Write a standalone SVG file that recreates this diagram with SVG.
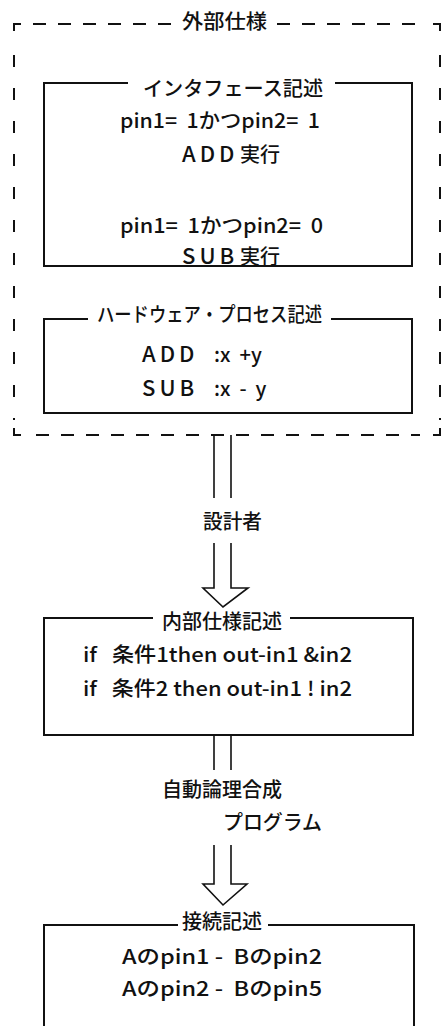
<svg xmlns="http://www.w3.org/2000/svg" width="443" height="1026" viewBox="0 0 443 1026" xml:space="preserve">
<style>
text{font-family:"Noto Sans CJK JP","Noto Sans CJK SC",sans-serif;font-size:20px;font-weight:500;fill:#111;white-space:pre}
.wide{letter-spacing:4px;font-size:22px}
.box{fill:none;stroke:#111;stroke-width:2}
.dh{fill:none;stroke:#111;stroke-width:2;stroke-dasharray:13 12}
.dv{fill:none;stroke:#111;stroke-width:2;stroke-dasharray:12 21}
.arr{fill:none;stroke:#111;stroke-width:1.6;stroke-linejoin:miter}
</style>
<rect width="443" height="1026" fill="#fff"/>
<g id="outer">
<path class="box" d="M14,31 V24 H21 M433,24 H440 V31 M14,428 V435 H21 M433,435 H440 V428"/>
<path class="dh" d="M33,24 H178 M277,24 H420"/>
<path class="dh" d="M36,435 H420"/>
<path class="dv" d="M14,55 V420 M440,55 V420"/>
<text x="182" y="29" textLength="85" lengthAdjust="spacingAndGlyphs">外部仕様</text>
</g>
<g id="interface">
<path class="box" d="M128,83 H44 V266 H412 V83 H335"/>
<text x="143" y="96" textLength="180" lengthAdjust="spacingAndGlyphs">インタフェース記述</text>
<text x="120" y="128" textLength="200" lengthAdjust="spacingAndGlyphs">pin1=  1かつpin2=  1</text>
<text x="182" y="162"><tspan class="wide">ADD</tspan><tspan x="240">実行</tspan></text>
<text x="120" y="233" textLength="203" lengthAdjust="spacingAndGlyphs">pin1=  1かつpin2=  0</text>
<text x="182" y="264"><tspan class="wide">SUB</tspan><tspan x="240">実行</tspan></text>
</g>
<g id="hardware">
<path class="box" d="M88,319 H44 V413 H412 V319 H331"/>
<text x="97" y="322" textLength="225" lengthAdjust="spacingAndGlyphs">ハードウェア・プロセス記述</text>
<text x="142" y="362"><tspan class="wide">ADD</tspan><tspan x="214">:x  +y</tspan></text>
<text x="142" y="396"><tspan class="wide">SUB</tspan><tspan x="214">:x  -  y</tspan></text>
</g>
<g id="internal">
<path class="box" d="M153,618 H44 V735 H413 V618 H290"/>
<text x="162" y="629" textLength="120" lengthAdjust="spacingAndGlyphs">内部仕様記述</text>
<text x="83" y="662" textLength="269" lengthAdjust="spacingAndGlyphs">if   条件1then out-in1 &amp;in2</text>
<text x="83" y="696" textLength="269" lengthAdjust="spacingAndGlyphs">if   条件2 then out-in1 ! in2</text>
</g>
<g id="connection">
<path class="box" d="M178,925 H44 V1030 M414,1030 V925 H268"/>
<text x="182" y="929" textLength="80" lengthAdjust="spacingAndGlyphs">接続記述</text>
<text x="122" y="964" textLength="200" lengthAdjust="spacingAndGlyphs">Aのpin1 -  Bのpin2</text>
<text x="122" y="996" textLength="200" lengthAdjust="spacingAndGlyphs">Aのpin2 -  Bのpin5</text>
</g>
<g id="connectors">
<path class="arr" d="M214,435 V498 M231,435 V498"/>
<path class="arr" d="M214,543 V588 H203 L223,607 L248,588 H231 V543"/>
<text x="203" y="529" textLength="59" lengthAdjust="spacingAndGlyphs">設計者</text>
<path class="arr" d="M214,735 V770 M231,735 V770"/>
<path class="arr" d="M214,845 V884 H203 L223,905 L247,884 H231 V845"/>
<text x="162" y="797" textLength="120" lengthAdjust="spacingAndGlyphs">自動論理合成</text>
<text x="223" y="830" textLength="99" lengthAdjust="spacingAndGlyphs">プログラム</text>
</g>
</svg>
